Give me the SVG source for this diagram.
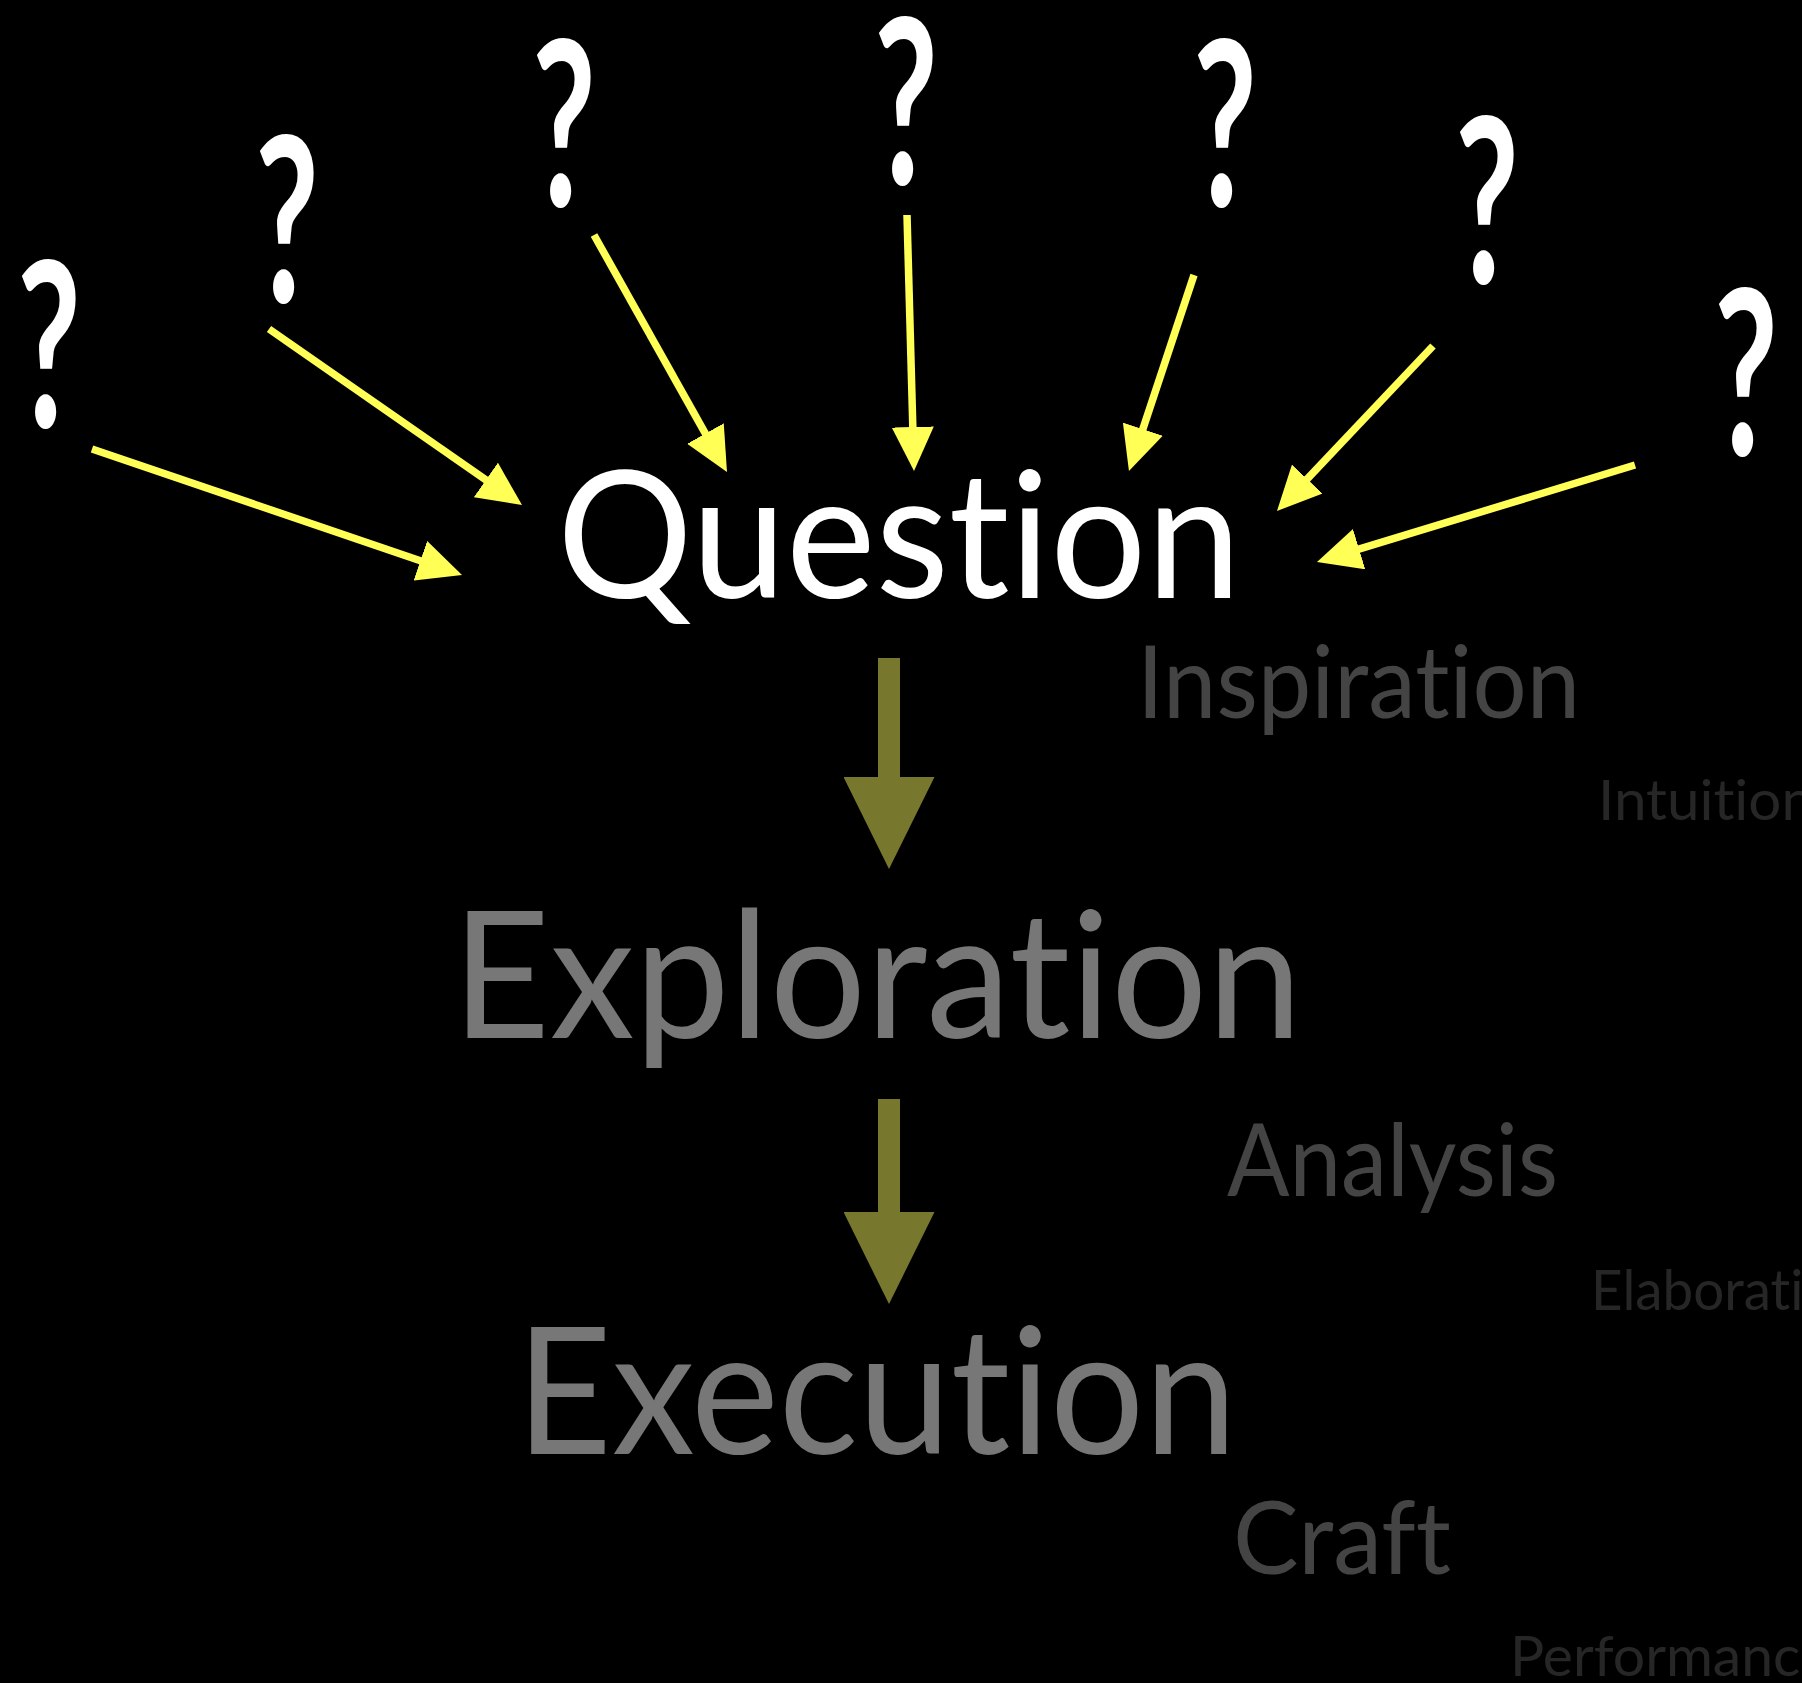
<svg xmlns="http://www.w3.org/2000/svg" width="1802" height="1683" viewBox="0 0 1802 1683">
  <style>
    text { font-family: Lato, "Open Sans", "Liberation Sans", sans-serif; font-variant-ligatures: none; }
    .q { font-size: 230px; font-weight: 700; fill: #ffffff; text-anchor: middle; }
    .main { font-size: 177px; }
    .white { fill: #ffffff; }
    .grey { fill: #777777; }
    .mid { font-size: 100px; fill: #444444; }
    .small { font-size: 57px; fill: #262626; }
    .ya { stroke: #ffff55; stroke-width: 7.5; fill: none; }
    .oa { stroke: #77772d; stroke-width: 22; fill: none; }
  </style>
  <defs>
    <marker id="yhead" markerUnits="userSpaceOnUse" viewBox="0 0 44 42" markerWidth="44" markerHeight="42" refX="14" refY="21" orient="auto">
      <path d="M0,0 L44,21 L0,42 Z" fill="#ffff55"/>
    </marker>
    <marker id="ohead" markerUnits="userSpaceOnUse" viewBox="0 0 92 91" markerWidth="92" markerHeight="91" refX="10" refY="45.5" orient="auto">
      <path d="M0,0 L92,45.5 L0,91 Z" fill="#77772d"/>
    </marker>
  </defs>
  <rect x="0" y="0" width="1802" height="1683" fill="#000000"/>

  <g id="questionmarks">
    <text id="q1" class="q" x="49" y="427" textLength="64" lengthAdjust="spacingAndGlyphs">?</text>
    <text id="q2" class="q" x="287" y="302" textLength="64" lengthAdjust="spacingAndGlyphs">?</text>
    <text id="q3" class="q" x="564" y="206" textLength="64" lengthAdjust="spacingAndGlyphs">?</text>
    <text id="q4" class="q" x="906" y="184" textLength="64" lengthAdjust="spacingAndGlyphs">?</text>
    <text id="q5" class="q" x="1225" y="206" textLength="64" lengthAdjust="spacingAndGlyphs">?</text>
    <text id="q6" class="q" x="1487" y="283" textLength="64" lengthAdjust="spacingAndGlyphs">?</text>
    <text id="q7" class="q" x="1746" y="455" textLength="64" lengthAdjust="spacingAndGlyphs">?</text>
  </g>

  <g id="question">
    <text class="main white" x="557" y="598" textLength="684" lengthAdjust="spacingAndGlyphs">Question</text>
  </g>
  <g id="exploration">
    <text class="main grey" x="452" y="1038" textLength="850" lengthAdjust="spacingAndGlyphs">Exploration</text>
  </g>
  <g id="execution">
    <text class="main grey" x="516" y="1454" textLength="721" lengthAdjust="spacingAndGlyphs">Execution</text>
  </g>

  <g id="inspiration">
    <text class="mid" x="1137" y="718" textLength="443" lengthAdjust="spacingAndGlyphs">Inspiration</text>
  </g>
  <g id="intuition">
    <text class="small" x="1598" y="820" textLength="216" lengthAdjust="spacingAndGlyphs">Intuition</text>
  </g>
  <g id="analysis">
    <text class="mid" x="1227" y="1196" textLength="331" lengthAdjust="spacingAndGlyphs">Analysis</text>
  </g>
  <g id="elaboration">
    <text class="small" x="1591" y="1310" textLength="274" lengthAdjust="spacingAndGlyphs">Elaboration</text>
  </g>
  <g id="craft">
    <text class="mid" x="1233" y="1574" textLength="218" lengthAdjust="spacingAndGlyphs">Craft</text>
  </g>
  <g id="performance">
    <text class="small" x="1510" y="1676" textLength="320" lengthAdjust="spacingAndGlyphs">Performance</text>
  </g>

  <g id="connectors">
    <line class="ya" x1="92" y1="449" x2="433.6" y2="565.3" marker-end="url(#yhead)"/>
    <line class="ya" x1="269" y1="329" x2="497.4" y2="487.9" marker-end="url(#yhead)"/>
    <line class="ya" x1="594" y1="235" x2="712.3" y2="445.8" marker-end="url(#yhead)"/>
    <line class="ya" x1="907" y1="215" x2="913.2" y2="441" marker-end="url(#yhead)"/>
    <line class="ya" x1="1194" y1="275" x2="1138.4" y2="442.5" marker-end="url(#yhead)"/>
    <line class="ya" x1="1433" y1="346" x2="1297.6" y2="489.2" marker-end="url(#yhead)"/>
    <line class="ya" x1="1635" y1="465" x2="1345.7" y2="553.2" marker-end="url(#yhead)"/>
    <line class="oa" x1="889" y1="658" x2="889" y2="787" marker-end="url(#ohead)"/>
    <line class="oa" x1="889" y1="1099" x2="889" y2="1222" marker-end="url(#ohead)"/>
  </g>
</svg>
